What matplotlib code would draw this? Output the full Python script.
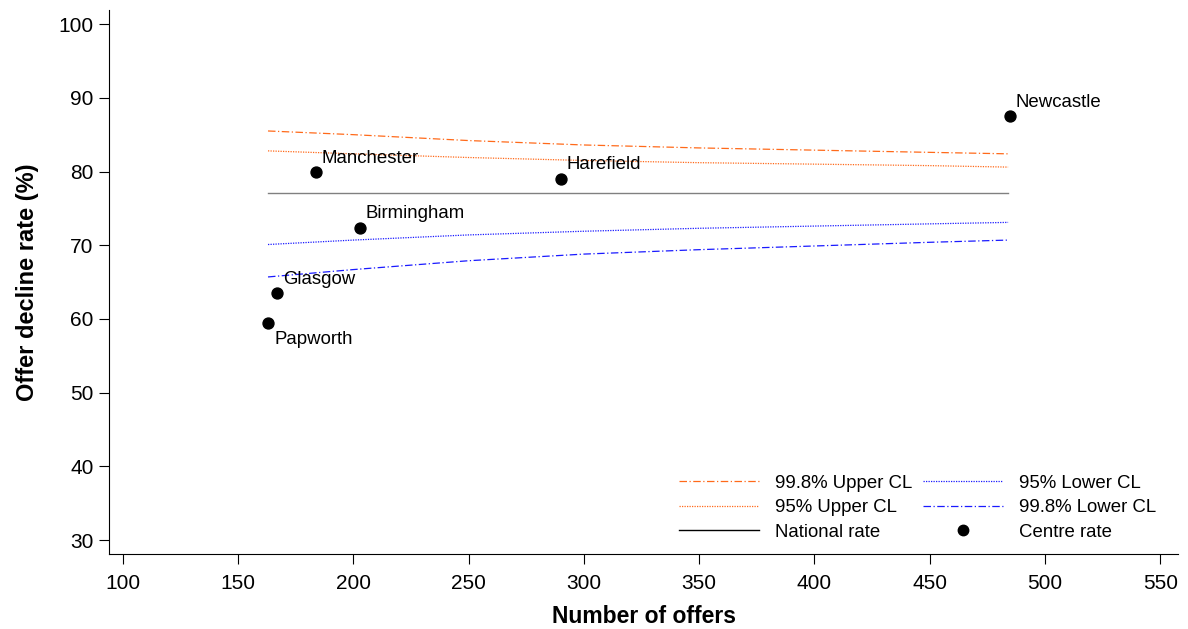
import matplotlib.pyplot as plt
from matplotlib.lines import Line2D

plt.rcParams['font.family'] = ['Liberation Sans', 'DejaVu Sans']

# centre data
centres = ["Newcastle", "Manchester", "Harefield", "Birmingham", "Glasgow", "Papworth"]
offers = [485, 184, 290, 203, 167, 163]
decline = [87.5, 79.9, 79.0, 72.4, 63.5, 59.5]

# funnel limits
n_line = [163, 200, 250, 300, 350, 400, 450, 484]
upper_998 = [85.5, 85.0, 84.2, 83.6, 83.2, 82.9, 82.6, 82.4]
upper_95 = [82.8, 82.4, 81.9, 81.5, 81.2, 81.0, 80.8, 80.6]
lower_95 = [70.1, 70.7, 71.4, 71.9, 72.3, 72.6, 72.9, 73.1]
lower_998 = [65.7, 66.7, 67.9, 68.8, 69.4, 69.9, 70.4, 70.7]
national = 77.1

fig = plt.figure(figsize=(11.88, 6.29), dpi=100)
ax = fig.add_axes([0.0918, 0.119, 0.900, 0.865])

orange = '#ff6a1a'
blue = '#1a1aff'
dashdot = (0, (6, 2, 1, 2))
dotted = (0, (1, 1))
ax.plot(n_line, upper_998, color=orange, lw=0.9, ls=dashdot)
ax.plot(n_line, upper_95, color=orange, lw=0.9, ls=dotted)
ax.plot([n_line[0], n_line[-1]], [national] * 2, color='#808080', lw=1.0)
ax.plot(n_line, lower_95, color=blue, lw=0.9, ls=dotted)
ax.plot(n_line, lower_998, color=blue, lw=0.9, ls=dashdot)
ax.scatter(offers, decline, s=62, color='black', zorder=3)

for name, x, y in zip(centres, offers, decline):
    if name == "Papworth":
        ax.annotate(name, (x, y), xytext=(5, -6), textcoords='offset points',
                    ha='left', va='top', fontsize=13.4)
    else:
        ax.annotate(name, (x, y), xytext=(4, 4), textcoords='offset points',
                    ha='left', va='bottom', fontsize=13.4)

ax.set_xlim(94.06, 557.8)
ax.set_ylim(28.1, 101.9)
ax.set_xticks(range(100, 551, 50))
ax.set_yticks(range(30, 101, 10))
ax.tick_params(labelsize=15, length=7.2, direction='out')
ax.tick_params(axis='x', pad=7)
ax.tick_params(axis='y', pad=4)
ax.spines['top'].set_visible(False)
ax.spines['right'].set_visible(False)
ax.set_xlabel("Number of offers", fontsize=16.5, fontweight='bold', labelpad=9)
ax.set_ylabel("Offer decline rate (%)", fontsize=17, fontweight='bold', labelpad=14)

handles = [
    Line2D([], [], color=orange, lw=0.9, ls=dashdot),
    Line2D([], [], color=orange, lw=0.9, ls=dotted),
    Line2D([], [], color='black', lw=1.0),
    Line2D([], [], color=blue, lw=0.9, ls=dotted),
    Line2D([], [], color=blue, lw=0.9, ls=dashdot),
    Line2D([], [], color='black', marker='o', ls='none', markersize=7.5),
]
labels = ["99.8% Upper CL", "95% Upper CL", "National rate",
          "95% Lower CL", "99.8% Lower CL", "Centre rate"]
ax.legend(handles, labels, ncol=2, loc='lower right', bbox_to_anchor=(0.995, -0.006),
          frameon=False, fontsize=13.4, handlelength=4.3, columnspacing=0.6,
          handletextpad=0.86, labelspacing=0.4)

fig.savefig('out.png', dpi=100)
